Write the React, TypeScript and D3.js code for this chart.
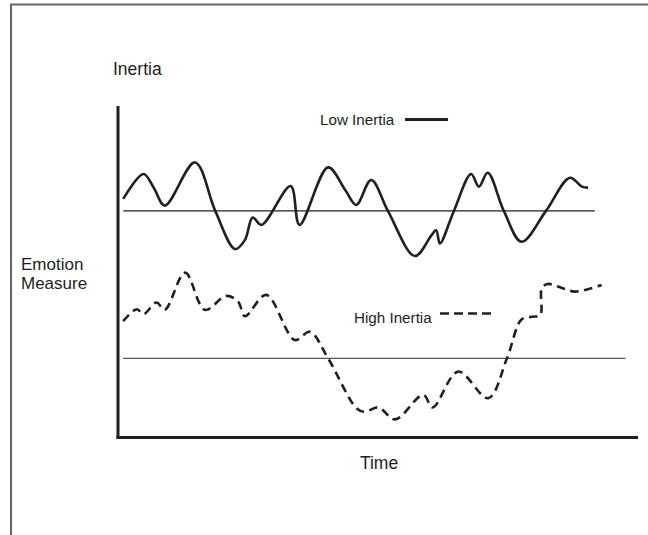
import * as d3 from 'd3';

const width = 648;
const height = 535;

// time runs 0..100 along the x axis, emotion 0..100 up the y axis
const lowTime = [
  1.0, 4.9, 6.9, 9.0, 14.8, 18.7, 22.5, 24.4, 25.9, 27.6, 33.2, 34.9, 40.4, 43.7, 45.8, 48.7,
  51.9, 57.1, 60.3, 61.2, 61.9, 64.6, 67.9, 69.4, 71.1, 74.2, 77.6, 82.3, 86.9, 89.2, 90.4,
];
const lowValue = [
  71.7, 79.2, 75.0, 69.7, 82.7, 68.1, 56.6, 59.3, 66.1, 63.9, 75.6, 63.9, 81.2, 74.4, 69.9, 77.4,
  68.1, 54.5, 60.8, 62.3, 58.3, 68.1, 79.2, 75.4, 79.6, 68.1, 58.8, 68.1, 78.1, 75.4, 75.1,
];

const highTime = [
  1.0, 3.6, 4.9, 7.4, 9.0, 12.9, 16.7, 20.8, 23.1, 24.4, 28.5, 34.0, 36.9, 40.4, 45.9, 47.5,
  50.1, 53.3, 58.7, 60.5, 65.4, 71.2, 74.8, 77.6, 79.6, 81.2, 81.5, 82.6, 85.0, 87.9, 93.0,
];
const highValue = [
  34.9, 38.5, 37.0, 40.5, 38.3, 49.5, 38.3, 42.5, 40.8, 36.4, 42.8, 29.2, 31.7, 23.7, 8.6, 7.6,
  8.9, 5.3, 12.7, 8.9, 19.7, 11.7, 23.7, 35.4, 36.2, 36.7, 44.8, 46.1, 45.1, 43.8, 45.8,
];

// mean lines for each series: [value, start time, end time]
const lowMean = [68.1, 1.0, 91.7];
const highMean = [23.7, 1.0, 97.6];

const font = '"Liberation Sans", Arial, sans-serif';
const ink = '#231f20';

export default function App() {
  const x = d3.scaleLinear().domain([0, 100]).range([118, 638]);
  const y = d3.scaleLinear().domain([0, 100]).range([437, 105]);

  const line = d3
    .line<[number, number]>()
    .x((d) => x(d[0]))
    .y((d) => y(d[1]))
    .curve(d3.curveCatmullRom.alpha(0.5));

  const lowPts = lowTime.map((t, i) => [t, lowValue[i]] as [number, number]);
  const highPts = highTime.map((t, i) => [t, highValue[i]] as [number, number]);

  return (
    <svg
      width={width}
      height={height}
      style={{ position: 'absolute', left: 0, top: 0, background: '#fff' }}
      fontFamily={font}
    >
      {/* page frame */}
      <path d={`M11,${height} V4.5 H${width}`} fill="none" stroke="#666" strokeWidth={2} />

      {/* mean lines */}
      <line x1={x(lowMean[1])} x2={x(lowMean[2])} y1={y(lowMean[0])} y2={y(lowMean[0])} stroke={ink} strokeWidth={1.1} />
      <line x1={x(highMean[1])} x2={x(highMean[2])} y1={y(highMean[0])} y2={y(highMean[0])} stroke="#555" strokeWidth={1.2} />

      {/* series */}
      <path d={line(lowPts) ?? ''} fill="none" stroke={ink} strokeWidth={2.6} strokeLinejoin="round" />
      <path
        d={line(highPts) ?? ''}
        fill="none"
        stroke={ink}
        strokeWidth={2.6}
        strokeDasharray="8.5 5.5"
      />

      {/* axes */}
      <line x1={x(0)} x2={x(0)} y1={106} y2={438.5} stroke={ink} strokeWidth={3} />
      <line x1={x(0) - 1.5} x2={x(100)} y1={437.5} y2={437.5} stroke={ink} strokeWidth={3} />

      {/* labels */}
      <text x={113} y={75} fontSize={17.5} fill={ink}>Inertia</text>
      <text x={21} y={270} fontSize={17} fill={ink}>Emotion</text>
      <text x={21} y={289} fontSize={17} fill={ink}>Measure</text>
      <text x={379} y={469} fontSize={17.5} fill={ink} textAnchor="middle">Time</text>

      {/* legend */}
      <text x={320} y={125} fontSize={15.2} fill={ink}>Low Inertia</text>
      <line x1={405} x2={448} y1={119.5} y2={119.5} stroke={ink} strokeWidth={2.8} />
      <text x={354} y={323} fontSize={15.2} fill={ink}>High Inertia</text>
      <line x1={440} x2={494} y1={313.5} y2={313.5} stroke={ink} strokeWidth={2.6} strokeDasharray="9 5" />
    </svg>
  );
}
